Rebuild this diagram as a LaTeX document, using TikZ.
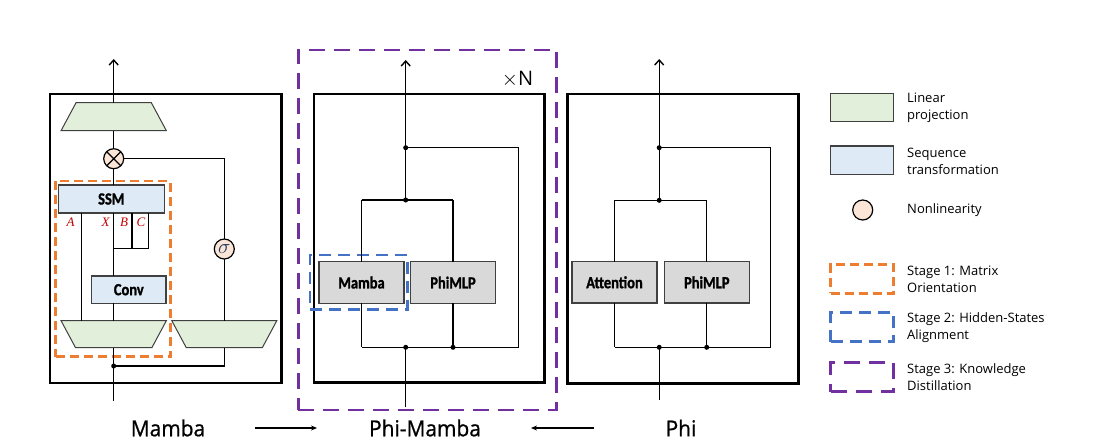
\documentclass[tikz,border=0pt]{standalone}
\usepackage{fontspec}
\setmainfont{Open Sans}
\newfontfamily\boxfont{Carlito}[FakeStretch=0.85,FakeBold=1.2]
\newfontfamily\bigfont{Open Sans}[FakeStretch=0.95,FakeBold=0.8]
\newfontfamily\serfont{Liberation Serif}
\usetikzlibrary{shapes.geometric,arrows.meta}
\definecolor{lingreen}{HTML}{E2EFDA}
\definecolor{seqblue}{HTML}{DEEBF7}
\definecolor{nonlin}{HTML}{FBE5D6}
\definecolor{boxgray}{HTML}{D9D9D9}
\definecolor{orng}{HTML}{ED7D31}
\definecolor{blu}{HTML}{4472C4}
\definecolor{purp}{HTML}{7030A0}
\definecolor{lblred}{HTML}{C00000}
\definecolor{edge}{HTML}{404040}
\definecolor{sigblue}{HTML}{1F3864}
\begin{document}
\begin{tikzpicture}[x=1pt,y=-1pt,
 wire/.style={line width=1.4pt, draw=black},
 outerbox/.style={rectangle, draw=black, line width=2.6pt, inner sep=0, outer sep=0},
 linarea/.style={rectangle, inner sep=0, outer sep=0},
 linproj/.style={draw=edge, line width=1pt, fill=lingreen, line join=miter},
 seqbox/.style={rectangle, draw=edge, line width=1.4pt, fill=seqblue, inner sep=0, outer sep=0, font=\boxfont\bfseries\fontsize{17}{17}\selectfont},
 blockbox/.style={rectangle, draw=edge, line width=1.4pt, fill=boxgray, inner sep=0, outer sep=0, minimum width=85pt, minimum height=41.5pt, font=\boxfont\bfseries\fontsize{17}{17}\selectfont},
 nlcirc/.style={circle, draw=black, line width=1.2pt, fill=nonlin, minimum size=20pt, inner sep=0, outer sep=0},
 jdot/.style={circle, fill=black, minimum size=5pt, inner sep=0},
 uparrow/.style={wire, -{Straight Barb[length=5pt,width=9pt,line width=1.4pt]}},
 flowarrow/.style={line width=1.1pt, -{Stealth[length=6pt,width=5pt]}},
 stageone/.style={rectangle, draw=orng, line width=2.6pt, dash pattern=on 9pt off 5pt, inner sep=0, outer sep=0},
 stagetwo/.style={rectangle, draw=blu, line width=2.6pt, dash pattern=on 12pt off 7pt, inner sep=0, outer sep=0},
 stagethree/.style={rectangle, draw=purp, line width=2.8pt, dash pattern=on 16pt off 9pt, inner sep=0, outer sep=0},
 lbl/.style={inner sep=0, text=lblred, font=\serfont\itshape\fontsize{13}{13}\selectfont},
 legtext/.style={anchor=west, inner sep=0, align=left, font=\fontsize{13}{16.7}\selectfont},
 bigtext/.style={inner sep=0, font=\bigfont\fontsize{22}{22}\selectfont}
]
\useasboundingbox (0,0) rectangle (1115,447);
\fill[white] (0,0) rectangle (1115,447);

%% ---------------- Mamba block ----------------
\node[outerbox, minimum width=231.5pt, minimum height=289pt] (mbox) at (165.75,238.5) {};
\node[linarea, minimum width=105.3pt, minimum height=28pt] (lintop) at (113.7,116.7) {};
\draw[linproj] ([xshift=15pt]lintop.north west) -- ([xshift=-15pt]lintop.north east) -- (lintop.south east) -- (lintop.south west) -- cycle;
\node[nlcirc] (mul) at (113.7,158.7) {};
\draw[line width=1.2pt] (mul.north west) -- (mul.south east) (mul.north east) -- (mul.south west);
\node[seqbox, minimum width=106pt, minimum height=27.7pt] (ssm) at (111.3,199) {SSM};
\node[seqbox, minimum width=74.3pt, minimum height=27.3pt] (conv) at (128.8,289.7) {Conv};
\node[linarea, minimum width=105.3pt, minimum height=27pt] (linL) at (113.7,334.2) {};
\draw[linproj] (linL.north west) -- (linL.north east) -- ([xshift=-14.5pt]linL.south east) -- ([xshift=14.5pt]linL.south west) -- cycle;
\node[linarea, minimum width=105pt, minimum height=27pt] (linR) at (224.3,334.2) {};
\draw[linproj] (linR.north west) -- (linR.north east) -- ([xshift=-14.5pt]linR.south east) -- ([xshift=14.5pt]linR.south west) -- cycle;
\node[nlcirc, text=sigblue, font=\fontsize{20}{20}\selectfont] (sig) at (224.3,249) {$\sigma$};
\node[stageone, minimum width=115pt, minimum height=175.7pt] (stage1) at (113.2,268.85) {};

\coordinate (mtop) at (113.7,59);
\coordinate (mbot) at (113.7,401);
\coordinate (mdot) at (113.7,366);
\coordinate (colA) at (81.7,0);
\coordinate (colB) at (132,0);
\coordinate (colC) at (148.7,0);
\coordinate (bcj) at (113.7,248.3);

\draw[uparrow] (lintop.north) -- (mtop);
\draw[wire] (mul.north) -- (lintop.south);
\draw[wire] (mul |- ssm.north) -- (mul.south);
\draw[wire] (mul.east) -| (sig.north);
\draw[wire] (sig.south) -- (sig |- linR.north);
\draw[wire] (colA |- ssm.south) -- (colA |- linL.north);
\draw[wire] (mul |- ssm.south) -- (mul |- conv.north);
\draw[wire] (colB |- ssm.south) |- (bcj);
\draw[wire] (colC |- ssm.south) |- (bcj);
\draw[wire] (mul |- conv.south) -- (mul |- linL.north);
\draw[wire] (linR.south) |- (mdot);
\draw[wire] (mbot) -- (linL.south);
\node[jdot] (mdotn) at (mdot) {};

\node[lbl] (lA) at (70.7,222) {A};
\node[lbl] (lX) at (105.5,222) {X};
\node[lbl] (lB) at (124,222) {B};
\node[lbl] (lC) at (141,222) {C};

%% ---------------- Phi-Mamba block ----------------
\node[stagethree, minimum width=258.4pt, minimum height=360pt] (stage3) at (427.5,230) {};
\node[outerbox, minimum width=230.7pt, minimum height=288.7pt] (pmbox) at (429.35,238.35) {};
\node[blockbox] (mamba) at (361.5,282.5) {Mamba};
\node[blockbox] (pmlp) at (453,282.5) {PhiMLP};
\node[stagetwo, minimum width=97.3pt, minimum height=54.3pt] (stage2) at (358.65,282.15) {};
\node[inner sep=0, font=\fontsize{20}{20}\selectfont] (xn) at (517.5,79.5) {$\times$N};

\coordinate (pmtop) at (405.7,60);
\coordinate (pmbot) at (405.7,407);
\coordinate (pmj1) at (405.7,147.7);
\coordinate (pmj2) at (405.7,200);
\coordinate (pmjb) at (405.7,347.3);
\coordinate (pmL) at (361.5,200);
\coordinate (pmR) at (453,200);
\coordinate (pmRR) at (518.3,147.7);
\coordinate (pmBL) at (361.5,347.3);
\coordinate (pmBM) at (453,347.3);

\draw[uparrow] (pmj1) -- (pmtop);
\draw[wire] (pmj1) -- (pmj2);
\draw[wire] (pmL) -- (pmR);
\draw[wire] (pmL) -- (mamba.north);
\draw[wire] (pmR) -- (pmlp.north);
\draw[wire] (pmj1) -- (pmRR) |- (pmBL);
\draw[wire] (mamba.south) -- (pmBL);
\draw[wire] (pmlp.south) -- (pmBM);
\draw[wire] (pmbot) -- (pmjb);
\node[jdot] at (pmj1) {};
\node[jdot] at (pmj2) {};
\node[jdot] at (pmjb) {};
\node[jdot] at (pmBM) {};

%% ---------------- Phi block ----------------
\node[outerbox, minimum width=231pt, minimum height=289.3pt] (phbox) at (682.8,238.65) {};
\node[blockbox] (attn) at (614.5,282.3) {Attention};
\node[blockbox] (phmlp) at (706.8,282.3) {PhiMLP};

\coordinate (phtop) at (659.2,59);
\coordinate (phbot) at (659.2,400);
\coordinate (phj1) at (659.2,147.7);
\coordinate (phj2) at (659.2,200.3);
\coordinate (phjb) at (659.2,347.3);
\coordinate (phL) at (614.7,200.3);
\coordinate (phR) at (706.7,200.3);
\coordinate (phRR) at (770.7,147.7);
\coordinate (phBL) at (614.7,347.3);
\coordinate (phBM) at (706.7,347.3);

\draw[uparrow] (phj1) -- (phtop);
\draw[wire] (phj1) -- (phj2);
\draw[wire] (phL) -- (phR);
\draw[wire] (phL) -- (attn.north -| phL);
\draw[wire] (phR) -- (phmlp.north -| phR);
\draw[wire] (phj1) -- (phRR) |- (phBL);
\draw[wire] (attn.south -| phL) -- (phBL);
\draw[wire] (phmlp.south -| phR) -- (phBM);
\draw[wire] (phbot) -- (phjb);
\node[jdot] at (phj1) {};
\node[jdot] at (phj2) {};
\node[jdot] at (phjb) {};
\node[jdot] at (phBM) {};

%% ---------------- bottom labels ----------------
\node[bigtext] (tmamba) at (168,428) {Mamba};
\node[bigtext] (tphimamba) at (425,428) {Phi-Mamba};
\node[bigtext] (tphi) at (681,428) {Phi};
\coordinate (a1s) at (255,428);
\coordinate (a1e) at (317,428);
\coordinate (a2s) at (594,428);
\coordinate (a2e) at (531,428);
\draw[flowarrow] (a1s) -- (a1e);
\draw[flowarrow] (a2s) -- (a2e);

%% ---------------- legend ----------------
\node[rectangle, draw=edge, line width=1.2pt, fill=lingreen, minimum width=62.6pt, minimum height=28.4pt, inner sep=0] (leg1) at (862,107.5) {};
\node[legtext] at (907,107.5) {Linear\\projection};
\node[rectangle, draw=edge, line width=1.4pt, fill=seqblue, minimum width=62.6pt, minimum height=28.3pt, inner sep=0] (leg2) at (862,160.2) {};
\node[legtext] at (907,161.7) {Sequence\\transformation};
\node[nlcirc] (leg3) at (862.7,210) {};
\node[legtext] at (907,210) {Nonlinearity};
\node[stageone, minimum width=62.6pt, minimum height=29pt] (leg4) at (862,278.8) {};
\node[legtext] at (907,279) {Stage 1: Matrix\\Orientation};
\node[stagetwo, minimum width=62.6pt, minimum height=29pt] (leg5) at (862,327.2) {};
\node[legtext] at (907,327.7) {Stage 2: Hidden-States\\Alignment};
\node[stagethree, minimum width=62.6pt, minimum height=29pt] (leg6) at (862,377.2) {};
\node[legtext] at (907,377) {Stage 3: Knowledge\\Distillation};
\end{tikzpicture}
\end{document}
